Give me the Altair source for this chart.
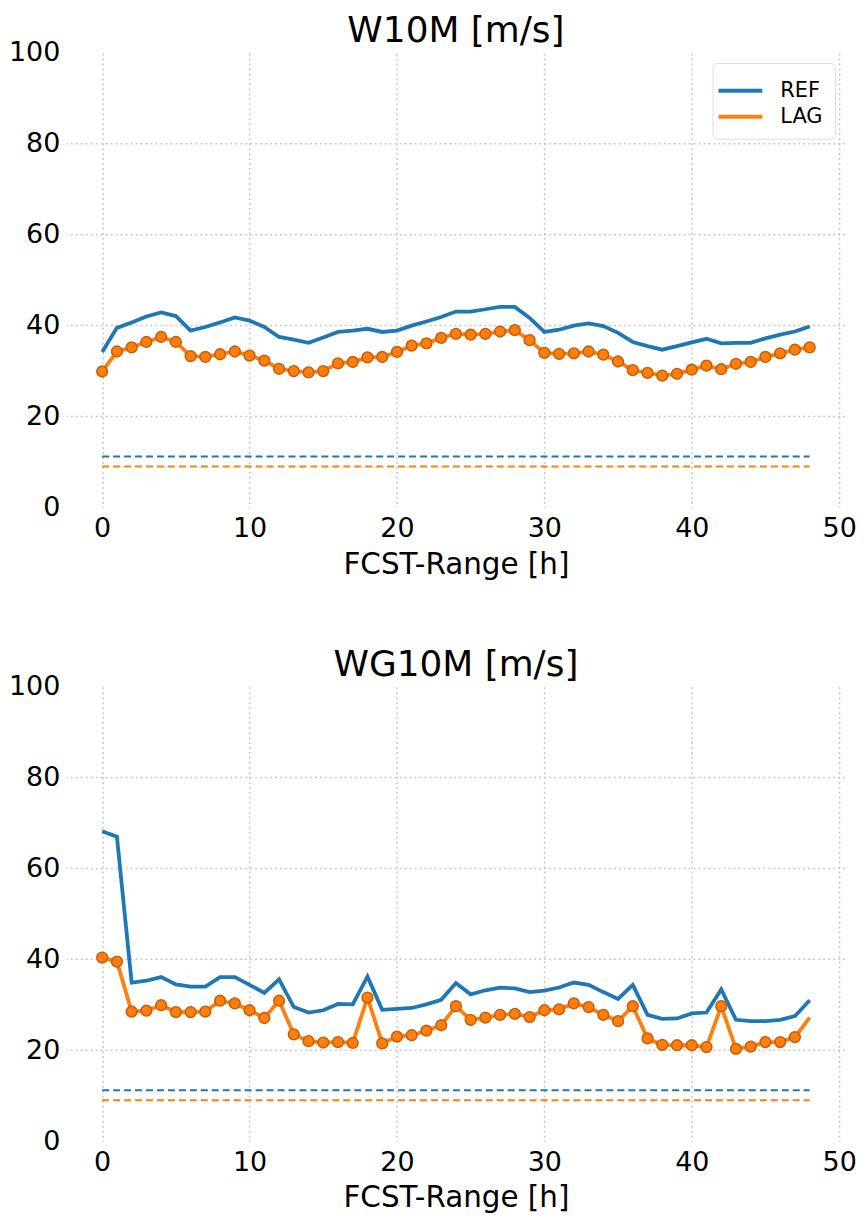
import altair as alt
import pandas as pd

hours = list(range(49))

ref_w10m = [34.2, 39.5, 40.7, 42.0, 42.9, 42.1, 38.9, 39.7, 40.7, 41.8, 41.1, 39.7, 37.5, 36.9, 36.2,
            37.4, 38.6, 38.9, 39.3, 38.6, 38.9, 40.0, 40.9, 41.9, 43.1, 43.1, 43.6, 44.1, 44.1, 41.7,
            38.6, 39.1, 40.0, 40.5, 39.9, 38.4, 36.4, 35.5, 34.7, 35.5, 36.3, 37.1, 36.1, 36.2, 36.2,
            37.2, 38.0, 38.7, 39.8]
lag_w10m = [29.9, 34.3, 35.2, 36.4, 37.5, 36.4, 33.3, 33.1, 33.7, 34.3, 33.4, 32.3, 30.5, 30.0, 29.7,
            30.0, 31.7, 32.0, 33.0, 33.1, 34.2, 35.6, 36.1, 37.3, 38.2, 38.0, 38.2, 38.7, 39.0, 36.8,
            34.0, 33.8, 33.9, 34.3, 33.6, 32.1, 30.2, 29.6, 29.0, 29.4, 30.3, 31.2, 30.4, 31.6, 32.0,
            33.1, 33.9, 34.7, 35.2]
ref_wg10m = [68.2, 67.0, 34.9, 35.3, 36.1, 34.5, 34.0, 34.0, 36.1, 36.1, 34.4, 32.6, 35.6, 29.5, 28.3,
             28.8, 30.2, 30.1, 36.2, 28.9, 29.1, 29.3, 30.1, 31.1, 34.8, 32.3, 33.2, 33.8, 33.6, 32.8,
             33.1, 33.8, 34.9, 34.4, 32.8, 31.3, 34.4, 27.8, 26.9, 27.0, 28.1, 28.3, 33.4, 26.7, 26.4,
             26.4, 26.7, 27.5, 31.0]
lag_wg10m = [40.4, 39.5, 28.5, 28.7, 29.9, 28.4, 28.4, 28.5, 30.9, 30.3, 28.8, 27.1, 30.9, 23.5, 22.0,
             21.7, 21.8, 21.6, 31.6, 21.5, 23.0, 23.3, 24.3, 25.5, 29.7, 26.7, 27.2, 27.8, 28.0, 27.3,
             28.8, 29.0, 30.3, 29.5, 27.8, 26.4, 29.7, 22.6, 21.2, 21.1, 21.1, 20.7, 29.7, 20.3, 20.8,
             21.8, 21.8, 22.9, 27.2]

# constant reference levels (dashed)
thr_hours = [0, 48]
thr_ref = [11.2, 11.2]
thr_lag = [9.0, 9.0]

x_ticks = [0, 10, 20, 30, 40, 50]
y_ticks = [0, 20, 40, 60, 80, 100]
y_grid = [20, 40, 60, 80]
series = ["REF", "LAG"]

BLUE = "#1f77b4"
ORANGE = "#ff7f0e"
EDGE = "#c8600a"
GRID = "#c8c8c8"


def panel(title, ref, lag, marker_hours):
    df = pd.DataFrame({"h": hours * 2, "v": ref + lag, "s": ["REF"] * len(ref) + ["LAG"] * len(lag)})
    pts = pd.DataFrame({"h": marker_hours, "v": [lag[i] for i in marker_hours]})
    tr = pd.DataFrame({"h": thr_hours, "v": thr_ref})
    tl = pd.DataFrame({"h": thr_hours, "v": thr_lag})
    gd = pd.DataFrame({"v": y_grid})

    x = alt.X("h:Q", scale=alt.Scale(domain=[-2.4, 50.4], nice=False, zero=False),
              axis=alt.Axis(values=x_ticks, title="FCST-Range [h]", format="d", labelPadding=8))
    y = alt.Y("v:Q", scale=alt.Scale(domain=[0, 100], nice=False),
              axis=alt.Axis(values=y_ticks, title=None, format="d", grid=False, labelPadding=7))

    grid = alt.Chart(gd).mark_rule(color=GRID, strokeWidth=1.5, strokeDash=[2, 3]).encode(y=y)
    thr1 = alt.Chart(tr).mark_line(color=BLUE, strokeWidth=2, strokeDash=[7, 4]).encode(x=x, y=y)
    thr2 = alt.Chart(tl).mark_line(color=ORANGE, strokeWidth=2, strokeDash=[7, 4]).encode(x=x, y=y)
    lines = alt.Chart(df).mark_line(strokeWidth=3.8).encode(
        x=x, y=y,
        color=alt.Color("s:N", scale=alt.Scale(domain=series, range=[BLUE, ORANGE]),
                        sort=series, legend=alt.Legend(title=None)),
    )
    dots = alt.Chart(pts).mark_point(filled=True, shape="circle", size=115, color=ORANGE,
                                     stroke=EDGE, strokeWidth=1.6, opacity=1).encode(x=x, y=y)
    return alt.layer(grid, thr1, thr2, lines, dots).properties(
        width=781, height=456, title=title
    )


top = panel("W10M [m/s]", ref_w10m, lag_w10m, list(range(49)))
bottom = panel("WG10M [m/s]", ref_wg10m, lag_wg10m, list(range(48)))

chart = alt.vconcat(top, bottom, spacing=68).properties(
    padding={"left": 0, "top": 3, "right": 0, "bottom": 0}
).configure_view(stroke=None).configure_axis(
    labelFont="DejaVu Sans", titleFont="DejaVu Sans",
    labelFontSize=27, titleFontSize=29.5, titleFontWeight="normal",
    labelColor="black", titleColor="black",
    grid=True, gridDash=[2, 3], gridColor=GRID, gridWidth=1.5,
    domain=False, ticks=False, titlePadding=9,
).configure_title(
    font="DejaVu Sans", fontSize=36, fontWeight="normal", color="black", anchor="middle", offset=-11
).configure_legend(
    orient="top-right", offset=10, strokeColor="#dddddd", fillColor="white", cornerRadius=5,
    padding=12, labelFont="DejaVu Sans", labelFontSize=21, labelColor="black", labelOffset=24,
    symbolType="M-1.57,0H1.57", symbolSize=784, symbolStrokeWidth=4, rowPadding=0,
)

chart.save("out.html", embed_options={"renderer": "svg", "actions": False})
